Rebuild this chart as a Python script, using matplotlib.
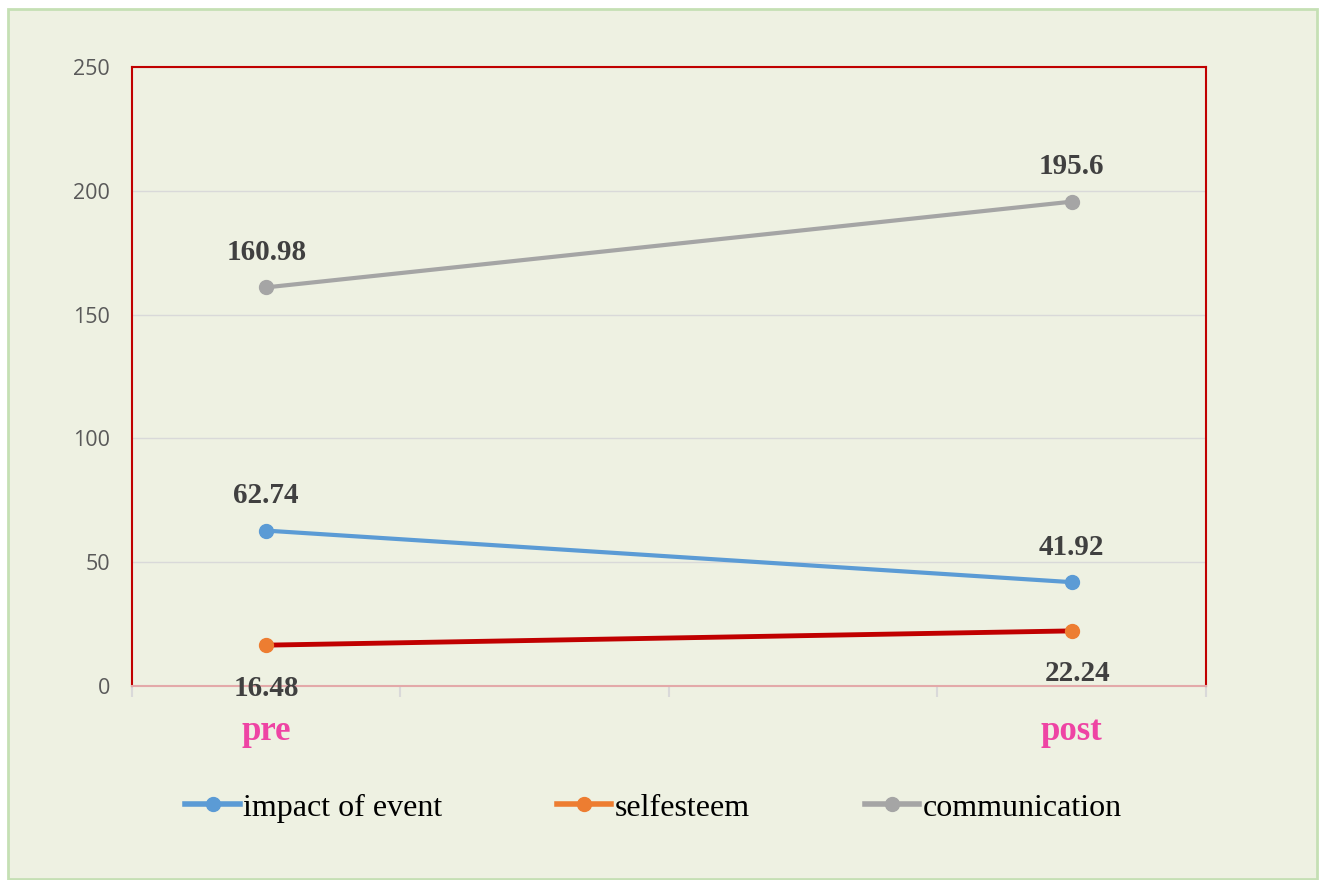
import matplotlib
matplotlib.use("Agg")
import matplotlib.pyplot as plt
from matplotlib.patches import Rectangle
from matplotlib.lines import Line2D

# данные
categories = ["pre", "", "", "post"]
impact = [62.74, 41.92]
selfesteem = [16.48, 22.24]
communication = [160.98, 195.6]
x_pts = [0, 3]  # позиции pre / post

fig = plt.figure(figsize=(13.2, 8.8), dpi=100)
fig.patch.set_facecolor("white")
# рамка фона
fig.patches.append(Rectangle((8 / 1320, 1 - 879 / 880), 1309 / 1320, 870 / 880,
                             transform=fig.transFigure, facecolor="#EEF1E2",
                             edgecolor="#C5E0B4", linewidth=2, zorder=-10))

ax = fig.add_axes([0.1, 0.2205, 0.8136, 0.7034])
ax.set_facecolor("none")

ax.plot(x_pts, impact, color="#5B9BD5", lw=3, marker="o", ms=10, zorder=3)
ax.plot(x_pts, selfesteem, color="#C00000", lw=3.5, marker="o", ms=10,
        mfc="#ED7D31", mec="#ED7D31", zorder=3)
ax.plot(x_pts, communication, color="#A5A5A5", lw=3, marker="o", ms=10, zorder=3)

lab_kw = dict(fontsize=21, fontweight="bold", color="#404040", family="Liberation Serif",
              ha="center", va="center")
for xv, yv in zip(x_pts, communication):
    ax.annotate(f"{yv:g}", (xv, yv), xytext=(0, 25), textcoords="offset points", **lab_kw)
for xv, yv in zip(x_pts, impact):
    ax.annotate(f"{yv:g}", (xv, yv), xytext=(0, 25), textcoords="offset points", **lab_kw)
for xv, yv in zip(x_pts, selfesteem):
    ax.annotate(f"{yv:g}", (xv, yv), xytext=(4 * (xv > 0), -31), textcoords="offset points", **lab_kw)

ax.set_xlim(-0.5, 3.5)
ax.set_ylim(0, 250)
ax.set_yticks(range(0, 251, 50))
ax.yaxis.grid(True, color="#D9D9D9", lw=1)
ax.set_axisbelow(True)
ax.tick_params(axis="y", length=0, labelsize=15.5, labelcolor="#595959", pad=16)
for t in ax.get_yticklabels():
    t.set_family("Open Sans")

ax.set_xticks([-0.5, 0.5, 1.5, 2.5, 3.5])
ax.set_xticklabels([])
ax.set_xticks(range(len(categories)), minor=True)
ax.set_xticklabels(categories, minor=True)
ax.tick_params(axis="x", which="major", length=8, color="#D9D9D9", width=1.5)
ax.tick_params(axis="x", which="minor", length=0, pad=21, labelsize=25, labelcolor="#EE44A4")
for t in ax.get_xticklabels(minor=True):
    t.set_family("Liberation Serif")
    t.set_fontweight("bold")

for s in ["left", "top", "right"]:
    ax.spines[s].set_color("#C00000")
    ax.spines[s].set_linewidth(1.5)
ax.spines["bottom"].set_color("#E3A9A9")
ax.spines["bottom"].set_linewidth(1.5)

handles = [
    Line2D([], [], color="#5B9BD5", lw=4, marker="o", ms=10),
    Line2D([], [], color="#ED7D31", lw=4, marker="o", ms=10),
    Line2D([], [], color="#A5A5A5", lw=4, marker="o", ms=10),
]
fig.legend(handles, ["impact of event", "selfesteem", "communication"],
           loc="center", bbox_to_anchor=(0.495, 0.082), ncol=3, frameon=False,
           prop={"family": "Liberation Serif", "size": 23}, handlelength=1.7,
           handletextpad=0.1, columnspacing=3.6)

fig.savefig("out.png", dpi=100)
